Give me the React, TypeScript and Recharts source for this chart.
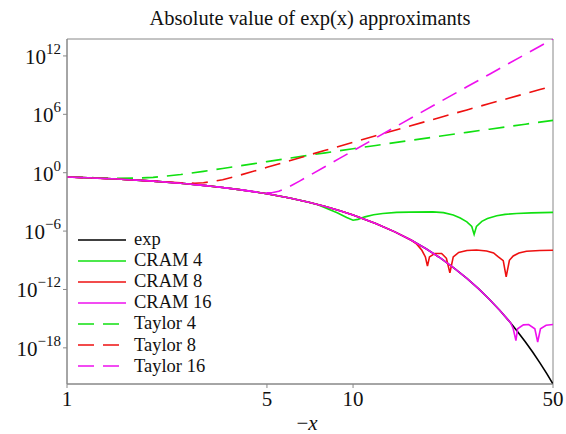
import { LineChart, Line, XAxis, YAxis, ReferenceArea, Label } from "recharts"

// sample points (x = -x on the axis)
const expX = [1, 1.25, 1.5, 1.75, 2, 2.5, 3, 3.5, 4, 4.5, 5, 6, 7, 8, 9, 10, 12, 14, 16, 18, 20, 22.5, 25, 27.5, 30, 32.5, 35, 37.5, 40, 42.5, 45, 47.5, 50]
const expY = [3.68e-1, 2.87e-1, 2.23e-1, 1.74e-1, 1.35e-1, 8.21e-2, 4.98e-2, 3.02e-2, 1.83e-2, 1.11e-2, 6.74e-3, 2.48e-3, 9.12e-4, 3.35e-4, 1.23e-4, 4.54e-5, 6.14e-6, 8.32e-7, 1.13e-7, 1.52e-8, 2.06e-9, 1.69e-10, 1.39e-11, 1.14e-12, 9.36e-14, 7.68e-15, 6.31e-16, 5.18e-17, 4.25e-18, 3.49e-19, 2.86e-20, 2.35e-21, 1.93e-22]

const cram4X = [1, 1.25, 1.5, 1.75, 2, 2.5, 3, 3.5, 4, 4.5, 5, 6, 7, 7.5, 8.1, 8.8, 9.5, 10, 10.4, 11, 11.8, 12.7, 14.2, 15.8, 19, 20.7, 22.4, 23.7, 25, 26, 26.5, 27, 28.2, 29.5, 31.8, 34, 37.3, 42, 50]
const cram4Y = [3.68e-1, 2.87e-1, 2.23e-1, 1.74e-1, 1.35e-1, 8.21e-2, 4.98e-2, 3.02e-2, 1.83e-2, 1.11e-2, 6.74e-3, 2.48e-3, 9.0e-4, 5.3e-4, 2.1e-4, 7.6e-5, 2.5e-5, 1.3e-5, 1.6e-5, 2.9e-5, 4.7e-5, 6.5e-5, 8.3e-5, 8.9e-5, 9.5e-5, 7.9e-5, 4.4e-5, 2.2e-5, 8.9e-6, 3.0e-6, 4.5e-7, 3.0e-6, 1.0e-5, 2.0e-5, 3.7e-5, 5.2e-5, 6.5e-5, 7.5e-5, 8.3e-5]

const cram8X = [1, 1.25, 1.5, 1.75, 2, 2.5, 3, 3.5, 4, 4.5, 5, 6, 7, 8, 9, 10, 12, 14, 16, 16.7, 17.4, 17.9, 18.2, 18.5, 19.3, 20.4, 21.2, 21.8, 22.4, 23.4, 25, 27, 29.3, 31, 32.2, 33.5, 34.3, 35.2, 36.3, 38, 40.4, 45, 50]
const cram8Y = [3.68e-1, 2.87e-1, 2.23e-1, 1.74e-1, 1.35e-1, 8.21e-2, 4.98e-2, 3.02e-2, 1.83e-2, 1.11e-2, 6.74e-3, 2.48e-3, 9.12e-4, 3.35e-4, 1.23e-4, 4.54e-5, 6.14e-6, 8.32e-7, 1.13e-7, 4.5e-8, 1.07e-8, 2.2e-9, 2.5e-10, 2.2e-9, 5.0e-9, 5.0e-9, 1.6e-9, 5e-11, 2.2e-9, 6.3e-9, 1.0e-8, 1.15e-8, 9.1e-9, 5.6e-9, 2.2e-9, 9e-10, 2e-11, 1.0e-9, 2.75e-9, 5.5e-9, 8.5e-9, 1.0e-8, 1.07e-8]

const cram16X = [1, 1.25, 1.5, 1.75, 2, 2.5, 3, 3.5, 4, 4.5, 5, 6, 7, 8, 9, 10, 12, 14, 16, 18, 20, 22.5, 25, 27.5, 30, 32.5, 35, 35.6, 36.3, 37.1, 37.6, 39.4, 41.1, 43.2, 44.2, 45.2, 47.3, 50]
const cram16Y = [3.68e-1, 2.87e-1, 2.23e-1, 1.74e-1, 1.35e-1, 8.21e-2, 4.98e-2, 3.02e-2, 1.83e-2, 1.11e-2, 6.74e-3, 2.48e-3, 9.12e-4, 3.35e-4, 1.23e-4, 4.54e-5, 6.14e-6, 8.32e-7, 1.13e-7, 1.52e-8, 2.06e-9, 1.69e-10, 1.39e-11, 1.14e-12, 9.36e-14, 7.68e-15, 6.31e-16, 3.4e-16, 9.1e-17, 5.6e-18, 9.1e-17, 2.3e-16, 2.5e-16, 9.1e-17, 4e-18, 9.1e-17, 2.1e-16, 2.5e-16]

const taylor4X = [1, 1.25, 1.5, 1.75, 2, 2.5, 3, 3.5, 4, 5, 6, 7, 8, 10, 12, 15, 20, 25, 30, 35, 40, 45, 50]
const taylor4Y = [3.75e-1, 3.07e-1, 2.73e-1, 2.79e-1, 3.33e-1, 6.49e-1, 1.375, 2.73, 5.0, 13.7, 31.0, 61.4, 110, 291, 637, 1.65e3, 5.51e3, 1.40e4, 2.97e4, 5.60e4, 9.68e4, 1.57e5, 2.41e5]

const taylor8X = [1, 1.5, 2, 2.2, 2.5, 2.8, 3, 3.5, 4, 5, 6, 7, 8, 10, 12, 15, 20, 25, 30, 35, 40, 45, 50]
const taylor8Y = [3.68e-1, 2.23e-1, 1.37e-1, 1.14e-1, 9.08e-2, 8.27e-2, 9.13e-2, 1.90e-1, 5.30e-1, 3.56, 17.1, 64.3, 201, 1.34e3, 6.27e3, 4.08e4, 4.49e5, 2.84e6, 1.28e7, 4.53e7, 1.35e8, 3.53e8, 8.33e8]

const taylor16X = [1, 1.5, 2, 2.5, 3, 3.5, 4, 4.5, 4.8, 5, 5.2, 5.5, 6, 6.5, 7, 8, 9, 10, 12, 15, 20, 25, 30, 35, 40, 45, 50]
const taylor16Y = [3.68e-1, 2.23e-1, 1.35e-1, 8.21e-2, 4.98e-2, 3.02e-2, 1.84e-2, 1.14e-2, 9.07e-3, 8.41e-3, 8.77e-3, 1.24e-2, 3.80e-2, 1.37e-1, 4.70e-1, 4.36, 31.1, 179, 3.71e3, 1.49e5, 1.72e7, 6.72e8, 1.33e10, 1.65e11, 1.46e12, 9.94e12, 5.50e13]

const xTicks = [1, 5, 10, 50]
const yTicks = [1e-18, 1e-12, 1e-6, 1, 1e6, 1e12]
const yTickExponents = ["\u221218", "\u221212", "\u22126", "0", "6", "12"]
const xDomain = [1, 50]
const yDomain = [1.93e-22, 5.5e13]

const GREEN = "#10e010"
const RED = "#ee1010"
const MAGENTA = "#ee10ee"
const FONT = "'Liberation Serif', serif"
const DASH = "16 9"

const toPoints = (xs: number[], ys: number[]) => xs.map((x, i) => ({ x, y: ys[i] }))

const series = [
  { name: "exp", data: toPoints(expX, expY), color: "#000000", dash: undefined },
  { name: "CRAM 4", data: toPoints(cram4X, cram4Y), color: GREEN, dash: undefined },
  { name: "CRAM 8", data: toPoints(cram8X, cram8Y), color: RED, dash: undefined },
  { name: "CRAM 16", data: toPoints(cram16X, cram16Y), color: MAGENTA, dash: undefined },
  { name: "Taylor 4", data: toPoints(taylor4X, taylor4Y), color: GREEN, dash: DASH },
  { name: "Taylor 8", data: toPoints(taylor8X, taylor8Y), color: RED, dash: DASH },
  { name: "Taylor 16", data: toPoints(taylor16X, taylor16Y), color: MAGENTA, dash: DASH },
]

function YTick({ x, y, payload, index }: any) {
  const i = index ?? yTicks.indexOf(payload.value)
  return (
    <text x={x} y={y} dy={8} textAnchor="end" fontFamily={FONT} fill="#111">
      <tspan fontSize={21}>10</tspan>
      <tspan fontSize={15} dy={-10}>{yTickExponents[i]}</tspan>
    </text>
  )
}

function XTick({ x, y, payload }: any) {
  return (
    <text x={x} y={y} dy={16} textAnchor="middle" fontFamily={FONT} fontSize={21} fill="#111">
      {payload.value}
    </text>
  )
}

function XLabel({ viewBox }: any) {
  const cx = viewBox.x + viewBox.width / 2
  return (
    <text x={cx - 3} y={viewBox.y + 46} textAnchor="middle" fontFamily={FONT} fontSize={21} fill="#111">
      <tspan>{"\u2212"}</tspan>
      <tspan fontStyle="italic">x</tspan>
    </text>
  )
}

function LegendBox() {
  return (
    <div style={{ position: "absolute", left: 78, top: 229, fontFamily: FONT, fontSize: 18.5, color: "#111" }}>
      {series.map(s => (
        <div key={s.name} style={{ display: "flex", alignItems: "center", height: 21.1 }}>
          <svg width={48} height={6} style={{ marginRight: 8 }}>
            <line x1={0} y1={3} x2={48} y2={3} stroke={s.color} strokeWidth={1.7} strokeDasharray={s.dash} />
          </svg>
          <span style={{ lineHeight: "21px" }}>{s.name}</span>
        </div>
      ))}
    </div>
  )
}

export default function App() {
  return (
    <div style={{ position: "absolute", left: 0, top: 0, width: 566, height: 434, background: "#fff" }}>
      <div
        style={{
          position: "absolute",
          left: 0,
          top: 8,
          width: 620,
          textAlign: "center",
          fontFamily: FONT,
          fontSize: 20.5,
          lineHeight: "20px",
          color: "#111",
        }}
      >
        Absolute value of exp(x) approximants
      </div>
      <LineChart width={566} height={434} margin={{ top: 39, right: 13, bottom: 0, left: 0 }}>
        <XAxis
          type="number"
          dataKey="x"
          scale="log"
          domain={xDomain}
          ticks={xTicks}
          allowDataOverflow
          height={50}
          tick={<XTick />}
          tickSize={4}
          stroke="#888"
        >
          <Label content={<XLabel />} />
        </XAxis>
        <YAxis
          type="number"
          dataKey="y"
          scale="log"
          domain={yDomain}
          ticks={yTicks}
          allowDataOverflow
          width={67}
          tick={<YTick />}
          tickSize={4}
          stroke="#888"
        />
        <ReferenceArea x1={1} x2={50} y1={yDomain[0]} y2={yDomain[1]} fill="none" stroke="#888" strokeWidth={1} />
        {series.map(s => (
          <Line
            key={s.name}
            data={s.data}
            dataKey="y"
            name={s.name}
            type="linear"
            stroke={s.color}
            strokeWidth={1.6}
            strokeDasharray={s.dash}
            dot={false}
            isAnimationActive={false}
          />
        ))}
      </LineChart>
      <LegendBox />
    </div>
  )
}
